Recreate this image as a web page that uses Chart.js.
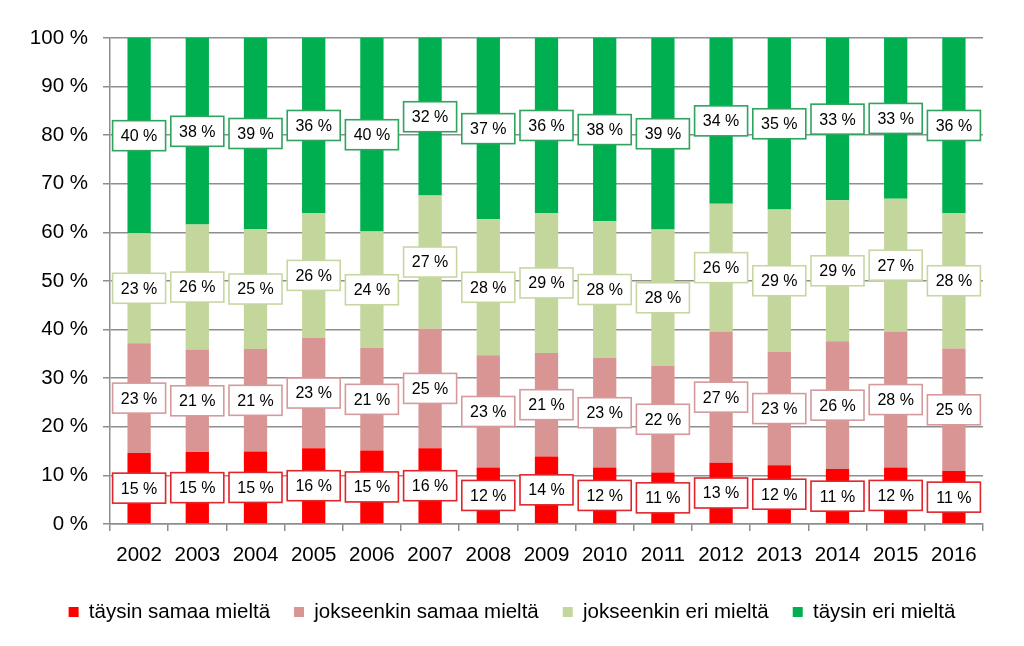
<!DOCTYPE html>
<html>
<head>
<meta charset="utf-8">
<script src="https://cdn.jsdelivr.net/npm/chart.js@4.4.1/dist/chart.umd.min.js"></script>
<style>
  html, body { margin: 0; padding: 0; background: #ffffff; }
  #wrap { width: 1024px; height: 646px; }
</style>
</head>
<body>
<div id="wrap"><canvas id="c" width="1024" height="646"></canvas></div>
<script>
const years = ['2002','2003','2004','2005','2006','2007','2008','2009','2010','2011','2012','2013','2014','2015','2016'];
const seriesNames = ['täysin samaa mieltä', 'jokseenkin samaa mieltä', 'jokseenkin eri mieltä', 'täysin eri mieltä'];
const taysinSamaa     = [14.6, 14.8, 14.9, 15.6, 15.1, 15.6, 11.6, 13.9, 11.6, 10.6, 12.6, 12.1, 11.3, 11.6, 10.9];
const jokseenkinSamaa = [22.6, 21.1, 21.1, 22.7, 21.1, 24.6, 23.1, 21.3, 22.6, 21.9, 27.0, 23.3, 26.3, 28.0, 25.2];
const jokseenkinEri   = [22.6, 25.7, 24.7, 25.7, 24.0, 27.4, 28.0, 28.8, 28.1, 28.1, 26.3, 29.3, 29.0, 27.3, 27.9];
const taysinEri       = [40.2, 38.4, 39.3, 36.0, 39.8, 32.4, 37.3, 36.0, 37.7, 39.4, 34.1, 35.3, 33.4, 33.1, 36.0];
const yTicks = [0, 10, 20, 30, 40, 50, 60, 70, 80, 90, 100];

const fillColors   = ['#ff0000', '#d99594', '#c3d69b', '#00b050'];
const borderColors = ['#e0252b', '#d49a9c', '#c6d7a4', '#2ea45e'];
const axisFont = '"Liberation Sans", Arial, sans-serif';
const labelFont = '"Liberation Sans", Arial, sans-serif';

const labelBoxes = {
  id: 'labelBoxes',
  afterDatasetsDraw(chart) {
    const ctx = chart.ctx;
    ctx.save();
    ctx.font = '16px ' + labelFont;
    ctx.textAlign = 'center';
    ctx.textBaseline = 'middle';
    chart.data.datasets.forEach((ds, di) => {
      const meta = chart.getDatasetMeta(di);
      meta.data.forEach((el, i) => {
        const v = ds.data[i];
        const cx = el.x;
        const cy = (el.y + el.base) / 2;
        const w = 53, h = 30;
        ctx.fillStyle = '#ffffff';
        ctx.fillRect(cx - w / 2, cy - h / 2, w, h);
        ctx.strokeStyle = borderColors[di];
        ctx.lineWidth = 1.6;
        ctx.strokeRect(cx - w / 2, cy - h / 2, w, h);
        ctx.fillStyle = '#000000';
        ctx.fillText(Math.round(v) + ' %', cx, cy + 1);
      });
    });
    ctx.restore();
  }
};

const seriesData = [taysinSamaa, jokseenkinSamaa, jokseenkinEri, taysinEri];

new Chart(document.getElementById('c'), {
  type: 'bar',
  data: {
    labels: years,
    datasets: seriesData.map((d, i) => ({
      label: seriesNames[i],
      data: d,
      backgroundColor: fillColors[i],
      borderWidth: 0,
      categoryPercentage: 1.0,
      barPercentage: 0.4
    }))
  },
  options: {
    responsive: false,
    animation: false,
    layout: { padding: { left: 0, right: 0, top: 38, bottom: 13.75 } },
    scales: {
      x: {
        stacked: true,
        grid: { drawOnChartArea: false, drawTicks: true, tickLength: 7, color: '#8e8e8e', lineWidth: 1.5 },
        border: { display: true, color: '#8e8e8e', width: 1.5 },
        ticks: { color: '#000000', font: { family: axisFont, size: 20.5 }, padding: 12, maxRotation: 0 },
        afterFit(scale) { scale.height = 53.75; }
      },
      y: {
        stacked: true,
        min: 0,
        max: 100,
        afterBuildTicks(scale) { scale.ticks = yTicks.map(v => ({ value: v })); },
        grid: { color: '#8e8e8e', lineWidth: 1.5, tickLength: 7 },
        border: { display: true, color: '#8e8e8e', width: 1.5 },
        ticks: { color: '#000000', font: { family: axisFont, size: 20.5 }, padding: 15, callback: v => v + ' %' },
        afterFit(scale) { scale.width = 110; }
      },
      yRight: {
        position: 'right',
        display: true,
        grid: { display: false, drawTicks: false },
        border: { display: false },
        ticks: { display: false },
        afterFit(scale) { scale.width = 41; }
      }
    },
    plugins: {
      legend: {
        position: 'bottom',
        align: 'center',
        labels: {
          boxWidth: 10,
          boxHeight: 10,
          padding: 24,
          color: '#000000',
          font: { family: axisFont, size: 20.5 }
        }
      },
      tooltip: { enabled: false }
    }
  },
  plugins: [labelBoxes]
});
</script>
</body>
</html>
